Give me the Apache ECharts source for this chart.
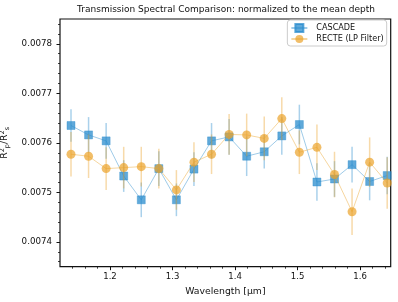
<!DOCTYPE html>
<html>
<head>
<meta charset="utf-8">
<script src="https://cdn.jsdelivr.net/npm/echarts@6/dist/echarts.min.js"></script>
<style>
html,body{margin:0;padding:0;background:#fff;}
#chart{width:398px;height:302px;}
</style>
</head>
<body>
<div id="chart"></div>
<script>
var wavelength = [1.1376,1.1657,1.1938,1.2219,1.2500,1.2781,1.3062,1.3343,1.3624,1.3905,1.4186,1.4467,1.4748,1.5029,1.5310,1.5591,1.5872,1.6153,1.6434];
var cascade = [0.007635,0.007616,0.007604,0.007533,0.007485,0.007548,0.007485,0.007547,0.007604,0.007612,0.007573,0.007582,0.007614,0.007637,0.007521,0.007527,0.007556,0.007522,0.007534];
var cascadeErr = [0.000033,0.000036,0.000036,0.000032,0.000035,0.000035,0.000033,0.000034,0.000036,0.000036,0.000040,0.000034,0.000038,0.000040,0.000038,0.000036,0.000036,0.000038,0.000038];
var recte = [0.007577,0.007573,0.007548,0.007550,0.007552,0.007548,0.007505,0.007561,0.007577,0.007617,0.007616,0.007609,0.007649,0.007581,0.007591,0.007536,0.007461,0.007561,0.007519];
var recteErr = [0.000045,0.000044,0.000043,0.000042,0.000040,0.000040,0.000040,0.000040,0.000040,0.000041,0.000043,0.000044,0.000043,0.000044,0.000046,0.000046,0.000047,0.000050,0.000052];

var xTicks = [1.2,1.3,1.4,1.5,1.6];
var xMinorTicks = [1.14,1.16,1.18,1.22,1.24,1.26,1.28,1.32,1.34,1.36,1.38,1.42,1.44,1.46,1.48,1.52,1.54,1.56,1.58,1.62,1.64];
var yTicks = [0.0074,0.0075,0.0076,0.0077,0.0078];
var yMinorTicks = [0.00736,0.00738,0.00742,0.00744,0.00746,0.00748,0.00752,0.00754,0.00756,0.00758,0.00762,0.00764,0.00766,0.00768,0.00772,0.00774,0.00776,0.00778,0.00782,0.00784];

var seriesNames = ['CASCADE','RECTE (LP Filter)'];
var titleText = 'Transmission Spectral Comparison: normalized to the mean depth';

var BLUE = '#2a8ccd', ORANGE = '#eba32a';
var FONT = 'DejaVu Sans';

function pairs(xs, ys, es) {
  return xs.map(function (x, i) { return es ? [x, ys[i], es[i]] : [x, ys[i]]; });
}
function errRender(color) {
  return function (params, api) {
    var x = api.value(0), y = api.value(1), e = api.value(2);
    var p1 = api.coord([x, y - e]), p2 = api.coord([x, y + e]);
    return {type: 'line', shape: {x1: p1[0], y1: p1[1], x2: p2[0], y2: p2[1]},
      style: {stroke: color, lineWidth: 1.5, opacity: 0.4}};
  };
}

var chart = echarts.init(document.getElementById('chart'), null, {renderer: 'canvas'});
var option = {
  animation: false,
  backgroundColor: '#fff',
  textStyle: {fontFamily: FONT},
  grid: {left: 60, top: 19, right: 7.3, bottom: 35.3, containLabel: false, outerBoundsMode: 'none',
    show: true, borderColor: '#111', borderWidth: 1.2, backgroundColor: 'transparent'},
  graphic: [{type: 'text', x: 226, y: 10, style: {text: titleText, x: 0, y: 0, align: 'center', verticalAlign: 'middle', font: '9px "DejaVu Sans"', fill: '#111'}}],
  legend: {
    data: seriesNames, right: 11.3, top: 20, orient: 'vertical', align: 'left',
    backgroundColor: '#fff', borderColor: '#ccc', borderWidth: 1, borderRadius: 3,
    padding: [3, 3, 3, 3], itemGap: 2, itemWidth: 16, itemHeight: 10,
    textStyle: {fontFamily: FONT, fontSize: 8.1, color: '#111', padding: [0, 0, 0, 4]}
  },
  xAxis: [{
    type: 'value', min: 1.12, max: 1.649, gridIndex: 0, position: 'bottom',
    name: 'Wavelength [\u03bcm]', nameLocation: 'middle', nameGap: 18,
    nameTextStyle: {fontFamily: FONT, fontSize: 9.3, color: '#111'},
    axisLine: {show: false}, splitLine: {show: false},
    axisTick: {show: true, inside: false, length: 3.5, lineStyle: {color: '#111', width: 1}, customValues: xTicks},
    axisLabel: {customValues: xTicks, fontFamily: FONT, fontSize: 8.5, color: '#111', margin: 6, formatter: function (v) { return v.toFixed(1); }}
  }, {
    type: 'value', min: 1.12, max: 1.649, gridIndex: 0, position: 'bottom',
    axisLine: {show: false}, splitLine: {show: false},
    axisTick: {show: true, inside: false, length: 2, lineStyle: {color: '#111', width: 0.8}, customValues: xMinorTicks},
    axisLabel: {show: false}
  }],
  yAxis: [{
    type: 'value', min: 0.00735, max: 0.00785, gridIndex: 0, position: 'left',
    name: 'R{sup|2}{sub|p}/R{sup|2}{sub|s}', nameLocation: 'middle', nameGap: 43, nameRotate: 90,
    nameTextStyle: {fontFamily: FONT, fontSize: 9.3, color: '#111',
      rich: {sup: {fontSize: 6.5, fontFamily: FONT, color: '#111', verticalAlign: 'top', padding: [0, 0, 5, 0]},
             sub: {fontSize: 6.5, fontFamily: FONT, color: '#111', verticalAlign: 'bottom', padding: [4, 0, 0, 0]}}},
    axisLine: {show: false}, splitLine: {show: false},
    axisTick: {show: true, inside: false, length: 3.5, lineStyle: {color: '#111', width: 1}, customValues: yTicks},
    axisLabel: {customValues: yTicks, fontFamily: FONT, fontSize: 8.7, color: '#111', margin: 8, formatter: function (v) { return v.toFixed(4); }}
  }, {
    type: 'value', min: 0.00735, max: 0.00785, gridIndex: 0, position: 'left',
    axisLine: {show: false}, splitLine: {show: false},
    axisTick: {show: true, inside: false, length: 2, lineStyle: {color: '#111', width: 0.8}, customValues: yMinorTicks},
    axisLabel: {show: false}
  }],
  series: [
    {name: 'cascadeErr', type: 'custom', xAxisIndex: 0, yAxisIndex: 0, renderItem: errRender(BLUE), data: pairs(wavelength, cascade, cascadeErr), z: 2, silent: true},
    {name: seriesNames[0], type: 'line', xAxisIndex: 0, yAxisIndex: 0, data: pairs(wavelength, cascade), z: 3,
      symbol: 'rect', symbolSize: 8, color: BLUE,
      lineStyle: {color: BLUE, width: 1, opacity: 0.45},
      itemStyle: {color: BLUE, opacity: 0.75, borderColor: BLUE, borderWidth: 0.5}},
    {name: 'recteErr', type: 'custom', xAxisIndex: 0, yAxisIndex: 0, renderItem: errRender(ORANGE), data: pairs(wavelength, recte, recteErr), z: 4, silent: true},
    {name: seriesNames[1], type: 'line', xAxisIndex: 0, yAxisIndex: 0, data: pairs(wavelength, recte), z: 5,
      symbol: 'circle', symbolSize: 9, color: ORANGE,
      lineStyle: {color: ORANGE, width: 1, opacity: 0.45},
      itemStyle: {color: ORANGE, opacity: 0.7}}
  ]
};
chart.setOption(option);
</script>
</body>
</html>
